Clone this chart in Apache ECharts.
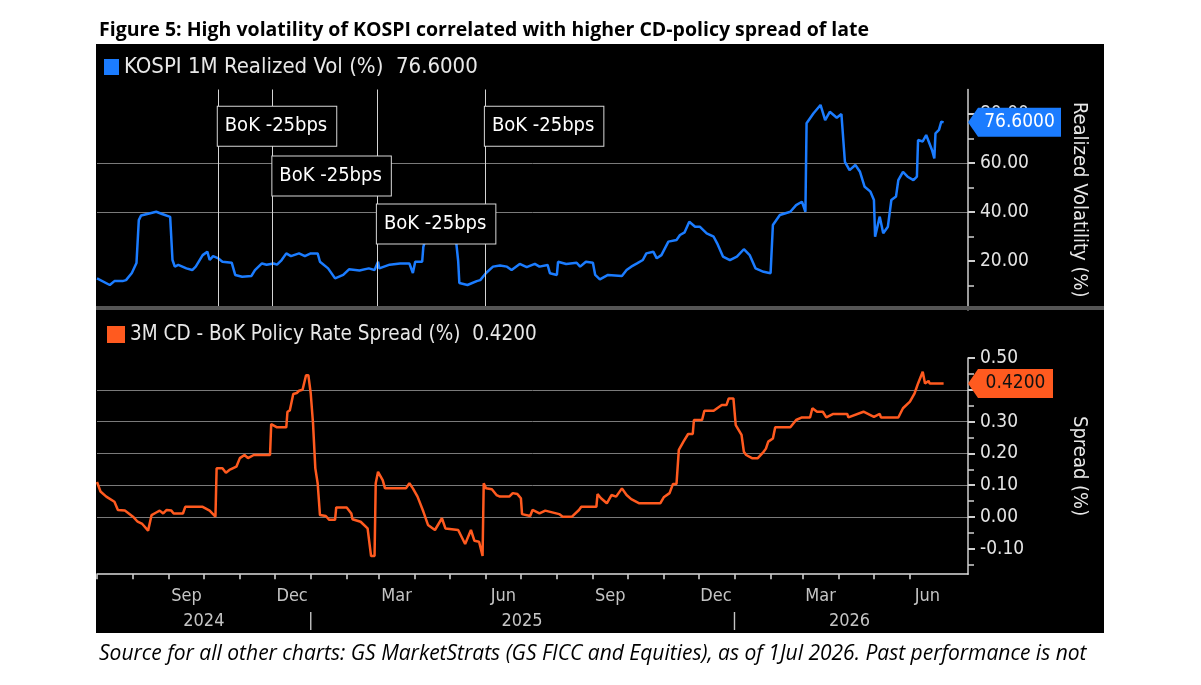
<!DOCTYPE html>
<html>
<head>
<meta charset="utf-8">
<title>KOSPI volatility vs CD-policy spread</title>
<script src="https://cdn.jsdelivr.net/npm/echarts@6/dist/echarts.min.js"></script>
<style>
  html, body { margin: 0; padding: 0; background: #fff; }
  #container { width: 1201px; height: 685px; }
</style>
</head>
<body>
<div id="container"></div>
<script>
'use strict';

// KOSPI 1M realized vol (%)
var volDates = [
  '2024-07-01', '2024-07-12', '2024-07-16', '2024-07-23', '2024-07-26', '2024-07-31', '2024-08-04', '2024-08-06', '2024-08-08', '2024-08-15',
  '2024-08-21', '2024-08-26', '2024-09-02', '2024-09-04', '2024-09-06', '2024-09-09', '2024-09-16', '2024-09-21', '2024-09-24', '2024-09-30',
  '2024-10-04', '2024-10-06', '2024-10-09', '2024-10-13', '2024-10-17', '2024-10-25', '2024-10-28', '2024-11-03', '2024-11-11', '2024-11-14',
  '2024-11-20', '2024-11-24', '2024-11-30', '2024-12-03', '2024-12-07', '2024-12-11', '2024-12-15', '2024-12-22', '2024-12-27',
  '2025-01-01', '2025-01-07', '2025-01-09', '2025-01-16', '2025-01-22', '2025-01-29', '2025-02-03', '2025-02-12', '2025-02-20', '2025-02-25',
  '2025-02-28', '2025-03-01', '2025-03-10', '2025-03-19', '2025-03-27', '2025-03-30', '2025-04-01', '2025-04-07', '2025-04-08', '2025-04-10',
  '2025-04-22', '2025-05-06', '2025-05-08', '2025-05-09', '2025-05-16', '2025-05-24', '2025-05-27',
  '2025-06-01', '2025-06-07', '2025-06-13', '2025-06-19', '2025-06-23', '2025-06-30', '2025-07-06', '2025-07-13', '2025-07-17', '2025-07-24',
  '2025-07-26', '2025-08-01', '2025-08-02', '2025-08-09', '2025-08-18', '2025-08-21', '2025-08-26', '2025-09-01', '2025-09-03', '2025-09-07',
  '2025-09-14', '2025-09-26', '2025-09-30',
  '2025-10-04', '2025-10-09', '2025-10-14', '2025-10-17', '2025-10-23', '2025-10-26', '2025-10-30', '2025-11-05', '2025-11-12', '2025-11-15',
  '2025-11-19', '2025-11-23', '2025-11-28', '2025-12-02', '2025-12-08', '2025-12-14', '2025-12-17', '2025-12-22', '2025-12-28',
  '2026-01-03', '2026-01-09', '2026-01-14', '2026-01-19', '2026-01-26', '2026-02-01', '2026-02-03', '2026-02-09', '2026-02-18', '2026-02-23',
  '2026-02-28', '2026-03-03', '2026-03-04', '2026-03-10', '2026-03-16', '2026-03-20', '2026-03-24', '2026-03-30', '2026-04-03', '2026-04-06',
  '2026-04-10', '2026-04-15', '2026-04-19', '2026-04-23', '2026-04-28', '2026-05-01', '2026-05-02', '2026-05-06', '2026-05-09', '2026-05-13',
  '2026-05-16', '2026-05-20', '2026-05-22', '2026-05-26', '2026-05-30', '2026-06-04', '2026-06-07', '2026-06-08', '2026-06-12', '2026-06-15',
  '2026-06-20', '2026-06-22', '2026-06-23', '2026-06-26', '2026-06-28', '2026-06-30'
];
var volValues = [
  12.9, 10.2, 11.8, 11.8, 12.2, 15.1, 19.2, 36.7, 38.6, 39.4,
  40.1, 39.2, 38.0, 20.4, 17.7, 18.4, 17.0, 16.3, 17.7, 22.4,
  23.8, 20.4, 22.0, 21.2, 19.7, 19.3, 14.3, 13.6, 13.9, 16.3,
  19.0, 18.5, 19.0, 18.5, 20.4, 23.1, 22.0, 23.1, 22.0,
  23.1, 23.1, 19.7, 17.0, 12.9, 14.3, 16.6, 16.1, 17.0, 16.3,
  19.7, 17.0, 18.5, 19.0, 19.0, 15.1, 19.7, 19.7, 25.8, 29.0,
  30.0, 29.0, 20.0, 11.0, 10.2, 11.8, 12.2,
  15.1, 17.7, 18.2, 17.7, 16.3, 18.8, 17.5, 18.8, 17.7, 18.4,
  15.0, 14.3, 19.7, 18.8, 19.3, 17.7, 19.7, 19.3, 14.3, 12.5,
  14.3, 13.9, 16.3,
  17.7, 19.0, 20.4, 23.1, 23.8, 21.1, 22.4, 27.9, 28.6, 30.6,
  31.7, 36.0, 34.0, 34.0, 31.3, 29.9, 27.2, 21.8, 20.4,
  21.8, 24.8, 22.4, 17.0, 15.6, 15.0, 34.7, 38.8, 40.1, 42.8,
  44.2, 40.1, 76.2, 80.3, 83.7, 77.5, 80.9, 78.5, 80.0, 60.5,
  57.1, 59.2, 56.4, 50.3, 48.3, 44.9, 29.9, 38.1, 31.3, 34.0,
  44.9, 46.3, 53.0, 56.4, 54.4, 53.0, 54.4, 69.4, 68.8, 71.4,
  65.3, 61.9, 72.1, 73.5, 76.9, 76.6
];

// 3M CD - BoK policy rate spread (%), lower panel
var spreadDates = [
  '2024-07-01', '2024-07-04', '2024-07-09', '2024-07-16', '2024-07-17', '2024-07-19', '2024-07-25', '2024-08-01', '2024-08-05', '2024-08-09',
  '2024-08-14', '2024-08-17', '2024-08-21', '2024-08-24', '2024-08-27', '2024-08-30', '2024-09-03', '2024-09-05', '2024-09-13', '2024-09-15',
  '2024-09-30', '2024-10-06', '2024-10-11', '2024-10-12', '2024-10-17', '2024-10-20', '2024-10-23', '2024-10-29', '2024-11-01', '2024-11-05',
  '2024-11-08', '2024-11-13', '2024-11-27', '2024-11-28', '2024-12-03', '2024-12-11', '2024-12-12', '2024-12-14', '2024-12-17', '2024-12-20',
  '2024-12-22', '2024-12-25', '2024-12-28', '2024-12-30',
  '2025-01-01', '2025-01-03', '2025-01-05', '2025-01-07', '2025-01-09', '2025-01-14', '2025-01-17', '2025-01-22', '2025-01-23', '2025-02-01',
  '2025-02-05', '2025-02-06', '2025-02-13', '2025-02-19', '2025-02-22', '2025-02-25', '2025-02-26', '2025-02-28', '2025-03-04', '2025-03-06',
  '2025-03-24', '2025-03-27', '2025-03-30', '2025-04-03', '2025-04-08', '2025-04-12', '2025-04-18', '2025-04-24', '2025-04-27', '2025-05-08',
  '2025-05-14', '2025-05-19', '2025-05-22', '2025-05-26', '2025-05-29', '2025-05-30', '2025-06-01', '2025-06-06', '2025-06-10', '2025-06-13',
  '2025-06-21', '2025-06-24', '2025-06-28', '2025-07-01', '2025-07-02', '2025-07-09', '2025-07-11', '2025-07-17', '2025-07-22', '2025-08-03',
  '2025-08-06', '2025-08-14', '2025-08-20', '2025-08-22', '2025-09-04', '2025-09-05', '2025-09-08', '2025-09-13', '2025-09-17', '2025-09-21',
  '2025-09-26', '2025-09-30', '2025-10-04', '2025-10-11', '2025-10-29', '2025-11-01', '2025-11-06', '2025-11-09', '2025-11-12', '2025-11-14',
  '2025-11-18', '2025-11-22', '2025-11-26', '2025-11-27', '2025-12-04', '2025-12-06', '2025-12-14', '2025-12-17', '2025-12-21', '2025-12-25',
  '2025-12-27', '2025-12-31',
  '2026-01-02', '2026-01-07', '2026-01-09', '2026-01-11', '2026-01-16', '2026-01-21', '2026-01-26', '2026-01-28', '2026-01-30', '2026-02-03',
  '2026-02-05', '2026-02-18', '2026-02-23', '2026-02-28', '2026-03-07', '2026-03-09', '2026-03-13', '2026-03-18', '2026-03-21', '2026-03-27',
  '2026-04-08', '2026-04-09', '2026-04-22', '2026-05-01', '2026-05-06', '2026-05-07', '2026-05-22', '2026-05-26', '2026-06-01', '2026-06-05',
  '2026-06-08', '2026-06-12', '2026-06-14', '2026-06-17', '2026-06-18', '2026-06-30'
];
var spreadValues = [
  0.110, 0.080, 0.064, 0.048, 0.050, 0.022, 0.020, 0.001, -0.015, -0.022,
  -0.043, 0.006, 0.014, 0.020, 0.011, 0.022, 0.020, 0.011, 0.011, 0.032,
  0.032, 0.020, 0.001, 0.153, 0.153, 0.139, 0.148, 0.158, 0.185, 0.195,
  0.185, 0.195, 0.195, 0.292, 0.282, 0.282, 0.331, 0.335, 0.387, 0.390,
  0.397, 0.400, 0.446, 0.446,
  0.390, 0.295, 0.153, 0.106, 0.006, 0.003, -0.009, -0.009, 0.030, 0.030,
  0.011, -0.007, -0.015, -0.036, -0.123, -0.123, 0.106, 0.142, 0.116, 0.090,
  0.090, 0.106, 0.090, 0.064, 0.017, -0.025, -0.041, -0.004, -0.036, -0.041,
  -0.085, -0.041, -0.075, -0.078, -0.123, 0.106, 0.090, 0.087, 0.069, 0.064,
  0.064, 0.075, 0.072, 0.059, 0.009, 0.003, 0.022, 0.011, 0.020, 0.009,
  0.001, 0.001, 0.022, 0.032, 0.032, 0.072, 0.059, 0.043, 0.069, 0.064,
  0.090, 0.069, 0.056, 0.043, 0.043, 0.062, 0.075, 0.104, 0.104, 0.211,
  0.237, 0.261, 0.261, 0.305, 0.305, 0.334, 0.334, 0.342, 0.352, 0.352,
  0.373, 0.373,
  0.289, 0.258, 0.205, 0.195, 0.185, 0.185, 0.205, 0.215, 0.237, 0.247,
  0.282, 0.282, 0.305, 0.313, 0.313, 0.342, 0.331, 0.331, 0.313, 0.324,
  0.324, 0.313, 0.331, 0.315, 0.324, 0.313, 0.313, 0.342, 0.363, 0.389,
  0.420, 0.457, 0.420, 0.428, 0.420, 0.420
];

// Bank of Korea -25bp cuts, where the vertical markers sit in the upper panel
var cutDates = ['2024-10-13', '2024-11-29', '2025-02-27', '2025-05-31'];
var cutLabel = 'BoK -25bps';

// axis ticks and labels
var axisStart = '2024-07-01';
var axisEnd = '2026-07-21';
var monthLabelDates = ['2024-09-16', '2024-12-16', '2025-03-16', '2025-06-16', '2025-09-16', '2025-12-16', '2026-03-16', '2026-06-16'];
var monthLabels = ['Sep', 'Dec', 'Mar', 'Jun', 'Sep', 'Dec', 'Mar', 'Jun'];
var yearLabelDates = ['2024-10-01', '2025-01-01', '2025-07-02', '2026-01-01', '2026-04-10'];
var yearLabels = ['2024', '|', '2025', '|', '2026'];
var volLabelTicks = [20, 40, 60, 80];
var spreadLabelTicks = [-0.1, 0, 0.1, 0.2, 0.3, 0.4, 0.5];

var volName = 'KOSPI 1M Realized Vol (%)';
var spreadName = '3M CD - BoK Policy Rate Spread (%)';

var BLUE = '#1b7cff';
var ORANGE = '#ff5a1f';
var COND = '"DejaVu Sans Condensed", "DejaVu Sans", sans-serif';
var PAGE_FONT = '"Open Sans", Lato, sans-serif';

function ts(s) { return echarts.time.parse(s).getTime(); }
function zip(dates, values) {
  return dates.map(function (d, i) { return [ts(d), values[i]]; });
}

var xMin = ts(axisStart);
var xMax = ts(axisEnd);
var lastVol = volValues[volValues.length - 1];
var lastSpread = spreadValues[spreadValues.length - 1];

// month-start ticks along the bottom axis (Jul 2024 .. Jun 2026)
var monthTicks = [];
for (var m = 0; m < 24; m++) {
  monthTicks.push(new Date(2024, 6 + m, 1).getTime());
}
var monthLabelTs = monthLabelDates.map(ts);
var yearLabelTs = yearLabelDates.map(ts);

// heights (in vol units) where each callout box sits
var calloutLevels = [75, 54.7, 35.1, 75];

function tagPath(w) {
  return 'path://M0,14.5L10,0L' + w + ',0L' + w + ',29L10,29Z';
}

function callout(d, i) {
  return {
    coord: [ts(d), calloutLevels[i]],
    symbol: 'rect',
    symbolSize: 0,
    label: {
      show: true, position: 'right', distance: 0, formatter: cutLabel,
      color: '#fff', fontSize: 20, lineHeight: 20, fontFamily: COND,
      padding: [10, 9, 9, 7], backgroundColor: '#000',
      borderColor: '#d8d8d8', borderWidth: 1
    }
  };
}

function endTag(value, color, textColor, width) {
  return {
    coord: [xMax, value],
    symbol: tagPath(width),
    symbolSize: [width, 29],
    symbolKeepAspect: false,
    symbolOffset: [width / 2, 0],
    itemStyle: { color: color },
    label: {
      show: true, position: 'inside', offset: [5, 0],
      formatter: value.toFixed(4), color: textColor, fontSize: 19, fontFamily: COND
    }
  };
}

function yAxisBase() {
  return {
    type: 'value',
    position: 'right',
    axisLine: { show: true, lineStyle: { color: '#cfcfcf', width: 1.5 } },
    axisTick: { show: true, length: 7, lineStyle: { color: '#cfcfcf', width: 2 } },
    minorTick: { show: true, splitNumber: 2, length: 6, lineStyle: { color: '#cfcfcf', width: 1.5 } },
    axisLabel: {
      color: '#e4e4e4', fontSize: 19, fontFamily: COND, margin: 12,
      formatter: function (v) { return v.toFixed(2); }
    },
    splitLine: { show: true, showMinLine: false, showMaxLine: false, lineStyle: { color: '#7a7a7a', width: 1 } },
    nameLocation: 'middle',
    nameRotate: -90,
    nameGap: 101,
    nameTextStyle: { color: '#e8e8e8', fontSize: 20, fontFamily: COND }
  };
}

var volAxis = yAxisBase();
volAxis.gridIndex = 0;
volAxis.min = 0;
volAxis.max = 90;
volAxis.interval = 20;
volAxis.name = 'Realized Volatility (%)';
volAxis.axisTick.customValues = volLabelTicks;
volAxis.axisLabel.customValues = volLabelTicks;

var spreadAxis = yAxisBase();
spreadAxis.gridIndex = 1;
spreadAxis.min = -0.18;
spreadAxis.max = 0.5;
spreadAxis.splitNumber = 5;
spreadAxis.name = 'Spread (%)';
spreadAxis.axisTick.customValues = spreadLabelTicks;
spreadAxis.axisLabel.customValues = spreadLabelTicks;

function dateAxis(grid) {
  return {
    type: 'value', gridIndex: grid, min: xMin, max: xMax, scale: true,
    axisLine: { show: false, onZero: false }, axisTick: { show: false }, axisLabel: { show: false }, splitLine: { show: false }
  };
}

var topX = dateAxis(0);

var monthX = dateAxis(1);
monthX.axisLine = { show: true, onZero: false, lineStyle: { color: '#dcdcdc', width: 1.5 } };
monthX.axisTick = { show: true, length: 5, customValues: monthTicks, lineStyle: { color: '#dcdcdc', width: 1.5 } };
monthX.axisLabel = {
  show: true, customValues: monthLabelTs, margin: 13, color: '#c4c4c4', fontSize: 18, fontFamily: COND,
  formatter: function (v) { return monthLabels[monthLabelTs.indexOf(v)] || ''; }
};

var yearX = dateAxis(1);
yearX.position = 'bottom';
yearX.offset = 25;
yearX.axisLabel = {
  show: true, customValues: yearLabelTs, margin: 13, color: '#c4c4c4', fontSize: 18, fontFamily: COND,
  formatter: function (v) { return yearLabels[yearLabelTs.indexOf(v)] || ''; }
};

var myChart = echarts.init(document.getElementById('container'), null, { renderer: 'canvas' });

var option = {
  backgroundColor: '#fff',
  animation: false,
  title: [
    {
      text: 'Figure 5: High volatility of KOSPI correlated with higher CD-policy spread of late',
      left: 94, top: 15,
      textStyle: { color: '#000', fontSize: 19.5, fontWeight: 'bold', fontFamily: PAGE_FONT }
    },
    {
      text: 'Source for all other charts: GS MarketStrats (GS FICC and Equities), as of 1Jul 2026. Past performance is not',
      left: 94, top: 639,
      textStyle: { color: '#000', fontSize: 21, fontWeight: 'normal', fontStyle: 'italic', fontFamily: PAGE_FONT }
    }
  ],
  graphic: [
    { type: 'rect', z: -10, silent: true, shape: { x: 96, y: 44, width: 1008, height: 589 }, style: { fill: '#000' } },
    { type: 'rect', z: 100, silent: true, shape: { x: 96, y: 306, width: 1008, height: 4 }, style: { fill: '#555' } }
  ],
  legend: [
    {
      data: [volName], left: 99, top: 51, icon: 'rect', itemWidth: 15, itemHeight: 16,
      selectedMode: false,
      formatter: function (n) { return n + '  ' + lastVol.toFixed(4); },
      textStyle: { color: '#e8e8e8', fontSize: 22, fontFamily: COND }
    },
    {
      data: [spreadName], left: 102, top: 319, icon: 'rect', itemWidth: 18, itemHeight: 17,
      selectedMode: false,
      formatter: function (n) { return n + '  ' + lastSpread.toFixed(4); },
      textStyle: { color: '#e8e8e8', fontSize: 20.5, fontFamily: COND }
    }
  ],
  grid: [
    { left: 97, right: 233, top: 89.5, height: 220.5 },
    { left: 97, right: 233, top: 358, height: 216.2 }
  ],
  xAxis: [topX, monthX, yearX],
  yAxis: [volAxis, spreadAxis],
  series: [
    {
      name: volName, type: 'line', xAxisIndex: 0, yAxisIndex: 0,
      data: zip(volDates, volValues),
      showSymbol: false, symbol: 'none',
      lineStyle: { color: BLUE, width: 2.5 }, itemStyle: { color: BLUE },
      markLine: {
        silent: true, symbol: ['none', 'none'], label: { show: false },
        lineStyle: { color: '#d4d4d4', width: 1, type: 'solid' },
        data: cutDates.map(function (d) { return { xAxis: ts(d) }; })
      },
      markPoint: {
        silent: true,
        data: cutDates.map(callout).concat([endTag(lastVol, BLUE, '#fff', 93)])
      }
    },
    {
      name: spreadName, type: 'line', xAxisIndex: 1, yAxisIndex: 1,
      data: zip(spreadDates, spreadValues),
      showSymbol: false, symbol: 'none',
      lineStyle: { color: ORANGE, width: 2.5 }, itemStyle: { color: ORANGE },
      markPoint: {
        silent: true,
        data: [endTag(lastSpread, ORANGE, '#111', 85)]
      }
    }
  ]
};

myChart.setOption(option);
</script>
</body>
</html>
